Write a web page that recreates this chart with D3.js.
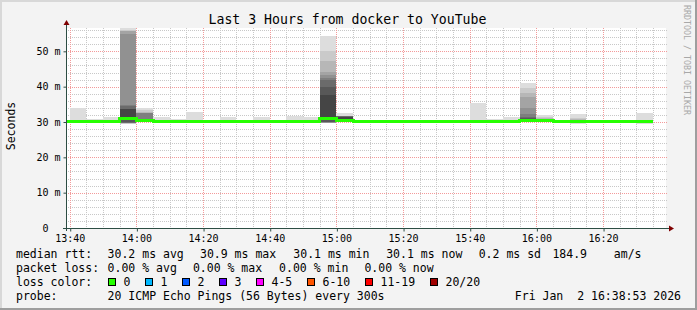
<!DOCTYPE html>
<html><head><meta charset="utf-8">
<script src="https://cdn.jsdelivr.net/npm/d3@7"></script>
<style>
html,body{margin:0;padding:0;background:#f3f3f3;}
svg{display:block;font-family:"DejaVu Sans Mono",monospace;}
</style></head><body>
<svg id="c" width="697" height="310"></svg>
<script>
// ---------- data ----------
const binStarts = ["13:35","13:40","13:45","13:50","13:55","14:00","14:05","14:10","14:15","14:20","14:25","14:30",
  "14:35","14:40","14:45","14:50","14:55","15:00","15:05","15:10","15:15","15:20","15:25","15:30","15:35","15:40",
  "15:45","15:50","15:55","16:00","16:05","16:10","16:15","16:20","16:25","16:30"];
const medians = [30.2,30.2,30.2,30.2,30.9,30.3,30.2,30.2,30.2,30.2,30.2,30.2,
  30.2,30.2,30.2,30.2,30.9,30.3,30.2,30.2,30.2,30.2,30.2,30.2,30.2,30.2,
  30.2,30.2,30.3,30.3,30.1,30.2,30.1,30.2,30.2,30.1];
const lossCounts = [0,0,0,0,0,0,0,0,0,0,0,0,0,0,0,0,0,0,0,0,0,0,0,0,0,0,0,0,0,0,0,0,0,0,0,0];
// 20 sorted ping round-trip times (ms) per 5-minute bin
const pings = [
  [30.0,30.05,30.1,30.1,30.15,30.15,30.2,30.2,30.2,30.2,30.2,30.25,30.25,30.3,30.3,30.3,30.35,30.4,30.4,30.5],
  [30.0,30.05,30.1,30.1,30.15,30.15,30.2,30.2,30.2,30.2,30.2,30.25,30.25,30.3,30.3,30.35,30.4,30.45,30.6,34.1],
  [30.0,30.05,30.1,30.1,30.15,30.15,30.2,30.2,30.2,30.2,30.2,30.25,30.25,30.3,30.3,30.35,30.4,30.45,30.5,30.9],
  [30.0,30.05,30.1,30.1,30.15,30.15,30.2,30.2,30.2,30.2,30.2,30.25,30.25,30.3,30.3,30.35,30.4,30.45,30.6,31.4],
  [29.4,29.5,29.6,29.7,29.75,29.8,29.85,29.9,30.5,30.7,31.1,33.7,33.8,34.6,34.7,55.0,55.8,55.85,55.9,56.6],
  [29.9,30.0,30.05,30.1,30.1,30.15,30.2,30.2,30.25,30.3,30.35,30.5,30.7,30.8,32.55,32.6,32.65,32.7,33.4,34.1],
  [29.6,30.0,30.05,30.1,30.1,30.15,30.15,30.2,30.2,30.2,30.2,30.25,30.25,30.3,30.3,30.35,30.4,30.45,30.5,31.3],
  [30.0,30.05,30.1,30.1,30.15,30.15,30.2,30.2,30.2,30.2,30.2,30.25,30.25,30.3,30.3,30.35,30.4,30.45,30.5,30.9],
  [30.0,30.05,30.1,30.1,30.15,30.15,30.2,30.2,30.2,30.2,30.2,30.25,30.25,30.3,30.3,30.35,30.4,30.45,30.6,32.8],
  [30.0,30.05,30.1,30.1,30.15,30.15,30.2,30.2,30.2,30.2,30.2,30.25,30.25,30.3,30.3,30.3,30.35,30.4,30.45,30.5],
  [30.0,30.05,30.1,30.1,30.15,30.15,30.2,30.2,30.2,30.2,30.2,30.25,30.25,30.3,30.3,30.35,30.4,30.45,30.6,31.4],
  [30.0,30.05,30.1,30.1,30.15,30.15,30.2,30.2,30.2,30.2,30.2,30.25,30.25,30.3,30.3,30.3,30.35,30.4,30.45,30.5],
  [30.0,30.05,30.1,30.1,30.15,30.15,30.2,30.2,30.2,30.2,30.2,30.25,30.25,30.3,30.3,30.35,30.4,30.45,30.6,31.4],
  [30.0,30.05,30.1,30.1,30.15,30.15,30.2,30.2,30.2,30.2,30.2,30.25,30.25,30.3,30.3,30.3,30.35,30.4,30.45,30.5],
  [30.0,30.05,30.1,30.1,30.15,30.15,30.2,30.2,30.2,30.2,30.2,30.25,30.25,30.3,30.3,30.35,30.4,30.45,30.6,31.7],
  [30.0,30.05,30.1,30.1,30.15,30.15,30.2,30.2,30.2,30.2,30.2,30.25,30.25,30.3,30.3,30.35,30.4,30.45,30.6,31.4],
  [29.6,29.7,29.75,29.8,29.85,29.9,29.9,29.95,30.5,30.7,31.1,37.7,40.0,42.0,42.4,43.3,44.2,47.3,50.2,54.3],
  [29.9,30.0,30.05,30.1,30.1,30.15,30.2,30.2,30.2,30.25,30.35,31.5,31.55,31.6,31.6,31.65,31.7,31.75,31.8,32.6],
  [30.0,30.05,30.1,30.1,30.15,30.15,30.2,30.2,30.2,30.2,30.2,30.25,30.25,30.3,30.3,30.3,30.35,30.4,30.45,30.5],
  [30.0,30.05,30.1,30.1,30.15,30.15,30.2,30.2,30.2,30.2,30.2,30.25,30.25,30.3,30.3,30.3,30.35,30.4,30.45,30.5],
  [30.0,30.05,30.1,30.1,30.15,30.15,30.2,30.2,30.2,30.2,30.2,30.25,30.25,30.3,30.3,30.3,30.35,30.4,30.45,30.5],
  [30.0,30.05,30.1,30.1,30.15,30.15,30.2,30.2,30.2,30.2,30.2,30.25,30.25,30.3,30.3,30.3,30.35,30.4,30.45,30.5],
  [30.0,30.05,30.1,30.1,30.15,30.15,30.2,30.2,30.2,30.2,30.2,30.25,30.25,30.3,30.3,30.3,30.35,30.4,30.45,30.5],
  [30.0,30.05,30.1,30.1,30.15,30.15,30.2,30.2,30.2,30.2,30.2,30.25,30.25,30.3,30.3,30.3,30.35,30.4,30.45,30.5],
  [30.0,30.05,30.1,30.1,30.15,30.15,30.2,30.2,30.2,30.2,30.2,30.25,30.25,30.3,30.3,30.3,30.35,30.4,30.45,30.5],
  [30.0,30.05,30.1,30.1,30.15,30.15,30.2,30.2,30.2,30.2,30.2,30.25,30.25,30.3,30.3,30.35,30.4,30.45,30.6,35.4],
  [30.0,30.05,30.1,30.1,30.15,30.15,30.2,30.2,30.2,30.2,30.2,30.25,30.25,30.3,30.3,30.35,30.4,30.45,30.5,30.9],
  [30.0,30.05,30.1,30.1,30.15,30.15,30.2,30.2,30.2,30.2,30.2,30.25,30.25,30.3,30.3,30.35,30.4,30.45,30.6,31.5],
  [29.9,30.0,30.05,30.1,30.1,30.15,30.2,30.2,30.25,30.3,30.35,30.7,31.0,31.5,32.2,34.1,37.2,38.2,39.5,41.1],
  [29.9,30.0,30.05,30.1,30.1,30.15,30.2,30.2,30.25,30.3,30.35,30.4,30.5,30.6,30.7,30.75,30.8,31.0,31.3,32.0],
  [29.9,29.95,30.0,30.0,30.05,30.05,30.1,30.1,30.1,30.1,30.1,30.15,30.15,30.2,30.2,30.2,30.25,30.3,30.3,30.3],
  [29.5,29.9,30.0,30.05,30.1,30.1,30.15,30.2,30.2,30.2,30.2,30.25,30.3,30.35,30.4,30.5,30.6,30.8,31.2,32.3],
  [29.6,29.9,29.95,30.0,30.0,30.05,30.05,30.1,30.1,30.1,30.1,30.15,30.15,30.2,30.2,30.25,30.3,30.35,30.45,30.7],
  [30.0,30.05,30.1,30.1,30.15,30.15,30.2,30.2,30.2,30.2,30.2,30.25,30.25,30.3,30.3,30.3,30.35,30.4,30.45,30.5],
  [30.0,30.05,30.1,30.1,30.15,30.15,30.2,30.2,30.2,30.2,30.2,30.25,30.25,30.3,30.3,30.3,30.35,30.4,30.45,30.5],
  [29.5,29.9,29.95,30.0,30.0,30.05,30.05,30.1,30.1,30.1,30.1,30.15,30.15,30.2,30.2,30.25,30.3,30.4,30.5,32.6]
];
const yTicks = [0,10,20,30,40,50];
const lossLabels = ["0","1","2","3","4-5","6-10","11-19","20/20"];
const lossMax = [0,1,2,3,5,10,19,20];
const lossColors = ["#26ff00","#00b8ff","#0059ff","#5e00ff","#ff00ff","#ff5500","#ff0000","#a00000"];
const titleText = "Last 3 Hours from docker to YouTube";
const rttStats = ["30.2 ms avg","30.9 ms max","30.1 ms min","30.1 ms now","0.2 ms sd","184.9","am/s"];
const lossStats = ["0.00 % avg","0.00 % max","0.00 % min","0.00 % now"];
const probeText = "20 ICMP Echo Pings (56 Bytes) every 300s";
const stampText = "Fri Jan  2 16:38:53 2026";

// ---------- setup ----------
const W = 697, H = 310;
const svg = d3.select("#c");
const nb = s => s.replace(/ /g, "\u00a0");
const parseT = s => { const [h,m] = s.split(":").map(Number); return new Date(2026,0,2,h,m,0); };
const tStart = new Date(2026,0,2,13,38,53), tEnd = new Date(2026,0,2,16,38,53);
const X0 = 66, X1 = 666, Y0 = 228, Y1 = 28;
const x = d3.scaleTime().domain([tStart,tEnd]).range([X0,X1]);
const yMax = d3.max(pings, p => d3.max(p));
const y = d3.scaleLinear().domain([0,yMax]).range([Y0,Y1]);
const STEP = 5*60*1000;

// background & frame
svg.append("rect").attr("width",W).attr("height",H).attr("fill","#f3f3f3");
svg.append("rect").attr("x",0).attr("y",0).attr("width",W).attr("height",2).attr("fill","#d8d8d8");
svg.append("rect").attr("x",0).attr("y",0).attr("width",2).attr("height",H).attr("fill","#d8d8d8");
svg.append("rect").attr("x",0).attr("y",H-2).attr("width",W).attr("height",2).attr("fill","#9e9e9e");
svg.append("rect").attr("x",W-2).attr("y",0).attr("width",2).attr("height",H).attr("fill","#9e9e9e");

// canvas
svg.append("rect").attr("x",X0).attr("y",Y1).attr("width",X1-X0).attr("height",Y0-Y1).attr("fill","#ffffff");

// grid
const g = svg.append("g").attr("shape-rendering","crispEdges");
const minorX = d3.timeMinute.every(5).range(tStart,tEnd).filter(d => d.getMinutes()%20 !== 0);
const majorX = d3.timeMinute.every(20).range(tStart,tEnd);
const minorY = d3.range(2, yMax, 2).filter(v => v%10 !== 0);
const majorY = yTicks.filter(v => v > 0);
const cx = v => Math.round(x(v)) + 0.5, cy = v => Math.round(y(v)) + 0.5;
g.selectAll(".mx").data(minorX).join("line")
  .attr("x1",cx).attr("x2",cx).attr("y1",Y1).attr("y2",Y0)
  .attr("stroke","#c8c8c8").attr("stroke-dasharray","1,1");
g.selectAll(".my").data(minorY).join("line")
  .attr("x1",X0).attr("x2",X1+2).attr("y1",cy).attr("y2",cy)
  .attr("stroke","#c8c8c8").attr("stroke-dasharray","1,1");
g.selectAll(".Mx").data(majorX).join("line")
  .attr("x1",cx).attr("x2",cx).attr("y1",Y1).attr("y2",Y0)
  .attr("stroke","#f39a9a").attr("stroke-dasharray","1,1");
g.selectAll(".My").data(majorY).join("line")
  .attr("x1",X0).attr("x2",X1+2).attr("y1",cy).attr("y2",cy)
  .attr("stroke","#f39a9a").attr("stroke-dasharray","1,1");

// clip
svg.append("clipPath").attr("id","pc").append("rect")
  .attr("x",X0+1).attr("y",Y1-2).attr("width",X1-X0-1).attr("height",Y0-Y1+2);

// smoke (SmokePing style: nested bands between ping i and ping n+1-i)
const bins = binStarts.map((s,i) => ({t0: parseT(s), t1: new Date(+parseT(s)+STEP), p: pings[i], m: medians[i], loss: lossCounts[i]}));
const half = 10;
const bands = [];
bins.forEach(b => {
  for (let ibot = 1; ibot <= half; ibot++) {
    const itop = 21 - ibot;
    const c = Math.floor(190/half*(half-ibot)) + 50;
    bands.push({b, lo: b.p[ibot-1], hi: b.p[itop-1], col: d3.rgb(c,c,c).formatHex()});
  }
});
svg.append("g").attr("clip-path","url(#pc)").attr("shape-rendering","crispEdges")
  .selectAll("rect").data(bands).join("rect")
  .attr("x", d => Math.round(x(d.b.t0)))
  .attr("width", d => Math.round(x(d.b.t1)) - Math.round(x(d.b.t0)))
  .attr("y", d => y(d.hi))
  .attr("height", d => Math.max(0, y(d.lo) - y(d.hi)))
  .attr("fill", d => d.col);

// median line coloured by loss
const lossColor = l => lossColors[lossMax.findIndex(v => l <= v)];
const pts = bins.map(b => ({t: b.t0, m: b.m, c: lossColor(b.loss)}));
pts.push({t: bins[bins.length-1].t1, m: bins[bins.length-1].m, c: pts[pts.length-1].c});
const line = d3.line().x(d => x(d.t)).y(d => y(d.m)).curve(d3.curveStepAfter);
const runs = [];
pts.forEach((p,i) => {
  if (i === pts.length-1) return;
  if (!runs.length || runs[runs.length-1].c !== p.c) runs.push({c: p.c, pts: [p]});
  else runs[runs.length-1].pts.push(p);
  runs[runs.length-1].end = pts[i+1];
});
svg.append("g").attr("clip-path","url(#pc)").selectAll("path").data(runs).join("path")
  .attr("d", r => line(r.pts.concat([{t: r.end.t, m: r.pts[r.pts.length-1].m}])))
  .attr("fill","none").attr("stroke", r => r.c).attr("stroke-width",3)
  .attr("shape-rendering","crispEdges");

// axes
const axisCol = "#2c4d43", arrowCol = "#7f0000";
const xAxis = d3.axisBottom(x).tickValues(majorX).tickFormat(d3.timeFormat("%H:%M")).tickSizeInner(3).tickSizeOuter(0).tickPadding(3);
const gx = svg.append("g").attr("transform",`translate(0,${Y0+0.5})`).call(xAxis);
gx.select(".domain").remove();
gx.selectAll("line").attr("stroke",axisCol).attr("transform","translate(0.5,0)");
gx.selectAll("text").attr("font-family","DejaVu Sans Mono").attr("font-size","10px").attr("fill","#000");
const yAxis = d3.axisLeft(y).tickValues(yTicks).tickFormat(d => nb(d === 0 ? "0  " : d + " m")).tickSizeInner(3).tickSizeOuter(0).tickPadding(3);
const gy = svg.append("g").attr("transform",`translate(${X0+0.5},0)`).call(yAxis);
gy.select(".domain").remove();
gy.selectAll("line").attr("stroke",axisCol);
gy.selectAll("text").attr("font-family","DejaVu Sans Mono").attr("font-size","10px").attr("fill","#000");
svg.append("line").attr("x1",X0-3).attr("x2",X1+3).attr("y1",Y0+0.5).attr("y2",Y0+0.5)
  .attr("stroke",axisCol).attr("shape-rendering","crispEdges");
svg.append("line").attr("x1",X0+0.5).attr("x2",X0+0.5).attr("y1",Y0+3).attr("y2",Y1-4)
  .attr("stroke",axisCol).attr("shape-rendering","crispEdges");
svg.append("path").attr("d",`M${X0-2.5},${Y1-3}L${X0+3.5},${Y1-3}L${X0+0.5},${Y1-8}Z`).attr("fill",arrowCol);
svg.append("path").attr("d",`M${X1+3},${Y0-2.5}L${X1+3},${Y0+3.5}L${X1+8},${Y0+0.5}Z`).attr("fill",arrowCol);

// titles
svg.append("text").attr("x",347.5).attr("y",24).attr("text-anchor","middle")
  .attr("font-size","13.2px").attr("fill","#000").text(titleText);
svg.append("text").attr("transform","translate(11,126) rotate(-90)").attr("text-anchor","middle")
  .attr("dominant-baseline","central").attr("font-size","11.5px").attr("fill","#000").text("Seconds");
svg.append("text").attr("transform","translate(687,5) rotate(90)").attr("dominant-baseline","central")
  .attr("font-size","8.3px").attr("fill","#a8a8a8").text("RRDTOOL / TOBI OETIKER");

// legend
const LF = "11.5px";
const leg = svg.append("g").attr("font-size",LF).attr("fill","#000");
const rowY = [258.3, 272.1, 285.9, 299.5];
leg.append("text").attr("x",16).attr("y",rowY[0]).text("median rtt:");
const rttX = [107.6, 200, 293.3, 386.2, 478.7, 552.4, 613.8];
rttStats.forEach((s,i) => leg.append("text").attr("x",rttX[i]).attr("y",rowY[0]).text(nb(s)));
leg.append("text").attr("x",16).attr("y",rowY[1]).text("packet loss:");
const lossX = [107.6, 192.9, 279.1, 364.4];
lossStats.forEach((s,i) => leg.append("text").attr("x",lossX[i]).attr("y",rowY[1]).text(nb(s)));
leg.append("text").attr("x",16).attr("y",rowY[2]).text("loss color:");
const boxX = [108.5, 145.5, 182.5, 219.5, 256.5, 307.5, 365.5, 430.5];
lossLabels.forEach((s,i) => {
  leg.append("rect").attr("x",boxX[i]).attr("y",278.5).attr("width",7).attr("height",7)
    .attr("fill",lossColors[i]).attr("stroke","#000").attr("stroke-width",1);
  leg.append("text").attr("x",boxX[i]+15).attr("y",rowY[2]).text(s);
});
leg.append("text").attr("x",16).attr("y",rowY[3]).text("probe:");
leg.append("text").attr("x",107.6).attr("y",rowY[3]).text(nb(probeText));
leg.append("text").attr("x",681).attr("y",rowY[3]).attr("text-anchor","end").text(nb(stampText));
</script>
</body></html>
